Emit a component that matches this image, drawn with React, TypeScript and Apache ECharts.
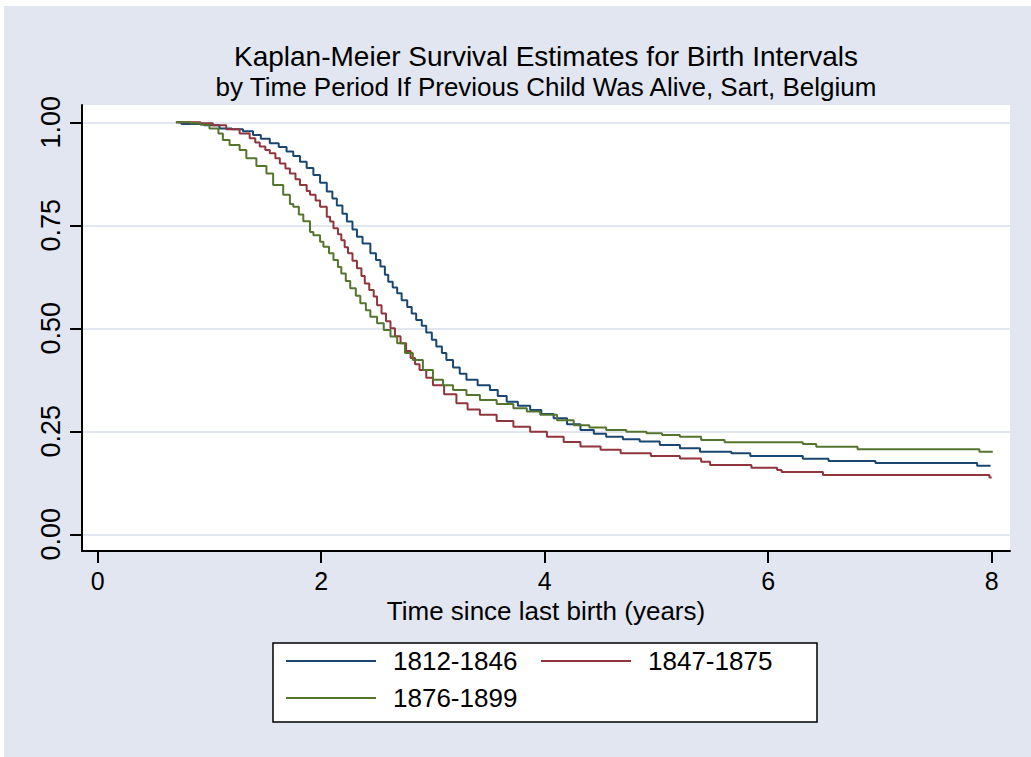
import React, { useEffect, useRef } from "react";
import * as echarts from "echarts";

const titleText = "Kaplan-Meier Survival Estimates for Birth Intervals";
const subtitleText = "by Time Period If Previous Child Was Alive, Sart, Belgium";
const xAxisTitle = "Time since last birth (years)";
const seriesNames = ["1812-1846", "1847-1875", "1876-1899"];
const seriesColors = ["#1A476F", "#90353B", "#55752F"];
const xTicks = [0, 2, 4, 6, 8];
const yTicks = [0, 0.25, 0.5, 0.75, 1];

const blueTimes = [0.70, 0.75, 0.95, 1.09, 1.20, 1.30, 1.39, 1.46, 1.54, 1.62, 1.69, 1.75, 1.81, 1.87, 1.93, 1.99, 2.05, 2.10, 2.14, 2.19, 2.23, 2.28, 2.32, 2.37, 2.44, 2.49, 2.53, 2.57, 2.60, 2.64, 2.68, 2.72, 2.77, 2.81, 2.85, 2.90, 2.94, 2.99, 3.03, 3.08, 3.12, 3.18, 3.24, 3.30, 3.40, 3.51, 3.58, 3.66, 3.76, 3.87, 3.97, 4.08, 4.20, 4.32, 4.44, 4.55, 4.70, 4.85, 5.03, 5.21, 5.39, 5.67, 5.84, 6.31, 6.54, 6.96, 7.87, 7.99];
const blueSurv = [1.0, 0.996, 0.993, 0.985, 0.983, 0.978, 0.969, 0.960, 0.949, 0.940, 0.929, 0.918, 0.904, 0.889, 0.872, 0.853, 0.832, 0.815, 0.798, 0.778, 0.759, 0.740, 0.722, 0.706, 0.682, 0.666, 0.650, 0.630, 0.613, 0.599, 0.585, 0.568, 0.552, 0.536, 0.520, 0.506, 0.490, 0.472, 0.456, 0.440, 0.423, 0.405, 0.390, 0.375, 0.362, 0.350, 0.336, 0.322, 0.312, 0.302, 0.292, 0.282, 0.267, 0.253, 0.244, 0.237, 0.231, 0.225, 0.217, 0.209, 0.2005, 0.1966, 0.190, 0.1836, 0.178, 0.173, 0.1666, 0.1666];

const redTimes = [0.72, 0.92, 1.03, 1.15, 1.27, 1.36, 1.41, 1.45, 1.50, 1.54, 1.59, 1.63, 1.68, 1.72, 1.77, 1.81, 1.87, 1.90, 1.95, 1.99, 2.05, 2.08, 2.11, 2.15, 2.18, 2.21, 2.24, 2.28, 2.32, 2.36, 2.39, 2.43, 2.47, 2.50, 2.54, 2.58, 2.62, 2.66, 2.71, 2.76, 2.80, 2.84, 2.88, 2.94, 3.00, 3.10, 3.21, 3.31, 3.42, 3.57, 3.72, 3.87, 4.02, 4.17, 4.32, 4.50, 4.68, 4.95, 5.21, 5.40, 5.48, 5.85, 6.08, 6.12, 6.49, 7.98, 8.00];
const redSurv = [1.0, 0.998, 0.993, 0.983, 0.973, 0.961, 0.951, 0.941, 0.933, 0.925, 0.913, 0.900, 0.888, 0.876, 0.862, 0.848, 0.833, 0.824, 0.810, 0.795, 0.771, 0.759, 0.743, 0.728, 0.714, 0.697, 0.682, 0.664, 0.646, 0.627, 0.609, 0.593, 0.577, 0.556, 0.536, 0.517, 0.500, 0.481, 0.464, 0.445, 0.428, 0.413, 0.399, 0.380, 0.362, 0.340, 0.318, 0.303, 0.290, 0.275, 0.261, 0.249, 0.237, 0.224, 0.213, 0.205, 0.197, 0.190, 0.184, 0.176, 0.168, 0.1617, 0.156, 0.151, 0.144, 0.138, 0.138];

const greenTimes = [0.70, 0.83, 0.92, 1.00, 1.08, 1.12, 1.18, 1.27, 1.33, 1.42, 1.51, 1.57, 1.66, 1.72, 1.75, 1.80, 1.84, 1.90, 1.93, 1.99, 2.02, 2.07, 2.11, 2.15, 2.18, 2.22, 2.26, 2.31, 2.35, 2.40, 2.44, 2.50, 2.56, 2.62, 2.68, 2.75, 2.82, 2.91, 3.00, 3.09, 3.18, 3.30, 3.42, 3.57, 3.72, 3.84, 3.96, 4.11, 4.26, 4.40, 4.55, 4.73, 4.91, 5.05, 5.21, 5.40, 5.61, 6.31, 6.43, 6.80, 7.89, 8.01];
const greenSurv = [1.0, 0.998, 0.994, 0.985, 0.973, 0.957, 0.945, 0.933, 0.913, 0.894, 0.876, 0.848, 0.824, 0.802, 0.795, 0.776, 0.760, 0.734, 0.726, 0.710, 0.698, 0.682, 0.666, 0.649, 0.633, 0.615, 0.597, 0.579, 0.561, 0.544, 0.528, 0.512, 0.496, 0.480, 0.464, 0.440, 0.423, 0.399, 0.375, 0.362, 0.350, 0.338, 0.326, 0.316, 0.306, 0.298, 0.290, 0.277, 0.265, 0.259, 0.253, 0.249, 0.245, 0.241, 0.237, 0.229, 0.2233, 0.219, 0.2126, 0.2063, 0.2005, 0.2005];

const FONT = "'Liberation Sans', Arial, Helvetica, sans-serif";
const BG = "#E1E6F0";

function pairs(t: number[], s: number[]) {
  return t.map((v, i) => [v, s[i]]);
}

const legendBase = {
  padding: 0,
  itemWidth: 90,
  itemHeight: 25,
  itemGap: 11,
  itemStyle: { opacity: 0, color: "rgba(0,0,0,0)", borderWidth: 0 },
  textStyle: { fontSize: 26, color: "#000", fontFamily: FONT, padding: [0, 0, 0, 12] },
};

export default function App() {
  const ref = useRef<HTMLDivElement>(null);
  useEffect(() => {
    if (!ref.current) return;
    const chart = echarts.init(ref.current, undefined, { renderer: "svg" });
    const data = [pairs(blueTimes, blueSurv), pairs(redTimes, redSurv), pairs(greenTimes, greenSurv)];
    chart.setOption({
      animation: false,
      backgroundColor: BG,
      textStyle: { fontFamily: FONT },
      title: [
        {
          text: titleText,
          left: 546,
          top: 42,
          padding: 0,
          textAlign: "center",
          textStyle: { fontSize: 28, fontWeight: "normal", color: "#000", fontFamily: FONT },
        },
        {
          text: subtitleText,
          left: 546,
          top: 74,
          padding: 0,
          textAlign: "center",
          textStyle: { fontSize: 26, fontWeight: "normal", color: "#000", fontFamily: FONT },
        },
      ],
      graphic: [
        { type: "rect", shape: { x: 0, y: 0, width: 1031, height: 6 }, style: { fill: "#fff" }, silent: true },
        { type: "rect", shape: { x: 0, y: 0, width: 4, height: 757 }, style: { fill: "#fff" }, silent: true },
        {
          type: "rect",
          shape: { x: 273, y: 643, width: 544, height: 79 },
          style: { fill: "#fff", stroke: "#000", lineWidth: 1.5 },
          silent: true,
        },
      ],
      grid: {
        left: 82,
        top: 105,
        right: 21,
        bottom: 206,
        show: true,
        backgroundColor: "#fff",
        borderWidth: 0,
      },
      legend: [
        { ...legendBase, orient: "vertical", left: 285, top: 648, data: [seriesNames[0], seriesNames[2]] },
        { ...legendBase, orient: "vertical", left: 540, top: 648, data: [seriesNames[1]] },
      ],
      xAxis: {
        type: "value",
        min: -0.1405,
        max: 8.164,
        axisLine: { show: true, onZero: false, lineStyle: { color: "#000", width: 2 } },
        axisTick: { show: true, length: 12, lineStyle: { color: "#000", width: 2 }, customValues: xTicks },
        axisLabel: { customValues: xTicks, fontSize: 25, color: "#000", margin: 17, fontFamily: FONT },
        splitLine: { show: false },
        name: xAxisTitle,
        nameLocation: "middle",
        nameGap: 36,
        nameTextStyle: { fontSize: 26, color: "#000", fontFamily: FONT },
      },
      yAxis: {
        type: "value",
        min: -0.0405,
        max: 1.042,
        axisLine: { show: true, onZero: false, lineStyle: { color: "#000", width: 2 } },
        axisTick: { show: true, length: 12, lineStyle: { color: "#000", width: 2 }, customValues: yTicks },
        axisLabel: {
          customValues: yTicks,
          rotate: 90,
          fontSize: 27,
          color: "#000",
          margin: 18,
          fontFamily: FONT,
          formatter: (v: number) => v.toFixed(2),
        },
        splitLine: { show: true, lineStyle: { color: BG, width: 2 } },
      },
      series: seriesNames.map((name, i) => ({
        type: "line",
        name,
        data: data[i],
        step: "end",
        symbol: "none",
        lineStyle: { width: 2, color: seriesColors[i] },
        itemStyle: { color: seriesColors[i] },
        z: 2 + i,
      })),
    });
    return () => chart.dispose();
  }, []);
  return (
    <div
      ref={ref}
      style={{ position: "absolute", left: 0, top: 0, width: 1031, height: 757 }}
    />
  );
}
